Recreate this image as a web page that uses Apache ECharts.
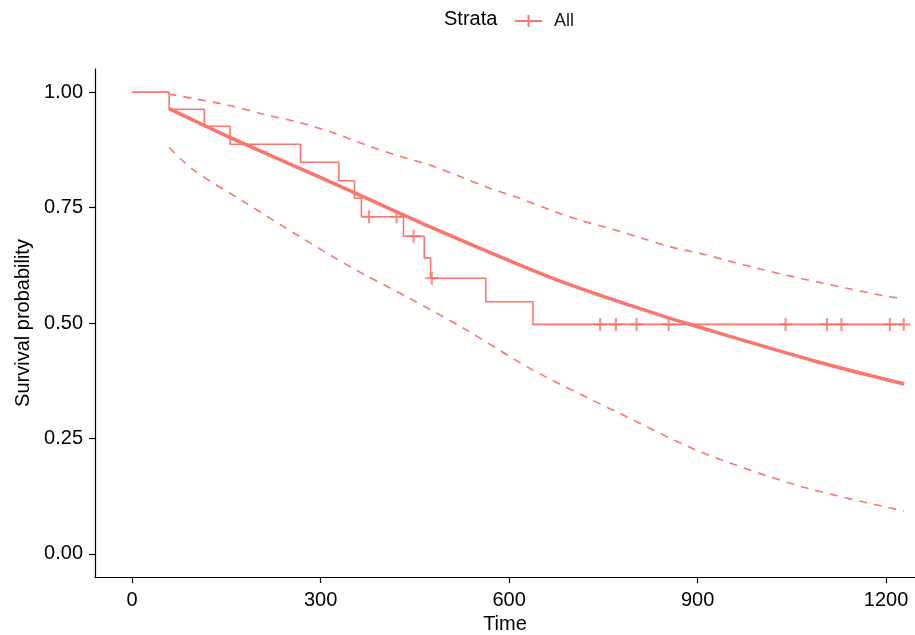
<!DOCTYPE html>
<html>
<head>
<meta charset="utf-8">
<style>
  html, body { margin: 0; padding: 0; background: #fff; }
  #chart { width: 915px; height: 635px; }
</style>
<script src="https://cdn.jsdelivr.net/npm/echarts@6/dist/echarts.min.js"></script>
</head>
<body>
<div id="chart"></div>
<script>
// Kaplan-Meier estimate (step curve)
const stepTime = [0, 59, 115, 156, 268, 329, 354, 365, 432, 465, 475, 563, 638, 1228];
const stepSurv = [1.000, 0.963, 0.926, 0.887, 0.848, 0.808, 0.770, 0.730, 0.688, 0.641, 0.597, 0.546, 0.497, 0.497];

// Censored observations
const censorTime = [377, 421, 448, 477, 745, 770, 803, 854, 1040, 1106, 1129, 1206, 1228];
const censorSurv = [0.730, 0.730, 0.688, 0.597, 0.497, 0.497, 0.497, 0.497, 0.497, 0.497, 0.497, 0.497, 0.497];

// Fitted parametric survival curve
const fitTime = [59, 160, 320, 458, 675, 840, 890, 1083, 1229];
const fitSurv = [0.964, 0.899, 0.803, 0.718, 0.594, 0.517, 0.496, 0.419, 0.368];

// Confidence band of the fitted curve
const upperTime = [58, 98, 159, 209, 267, 320, 373, 426, 474, 522, 569, 617, 665, 712, 765, 808, 856, 903, 951, 999, 1046, 1094, 1142, 1200, 1227];
const upperSurv = [0.996, 0.986, 0.970, 0.952, 0.934, 0.912, 0.885, 0.861, 0.842, 0.817, 0.792, 0.770, 0.745, 0.723, 0.703, 0.685, 0.665, 0.651, 0.634, 0.617, 0.602, 0.588, 0.574, 0.558, 0.553];
const lowerTime = [59, 98, 182, 267, 352, 437, 532, 638, 787, 903, 1062, 1228];
const lowerSurv = [0.880, 0.831, 0.759, 0.687, 0.618, 0.557, 0.485, 0.398, 0.297, 0.222, 0.147, 0.093];

// Axis ticks
const xTicks = [0, 300, 600, 900, 1200];
const yTicks = [0, 0.25, 0.5, 0.75, 1];

const COLOR = '#F8766D';
const FONT = '"Liberation Sans", Arial, sans-serif';
const PLUS = 'path://M5,0h2v5h5v2h-5v5h-2v-5h-5v-2h5z';
const LEGEND_ICON = 'path://M0,5H12.5V0H14.5V5H27V7H14.5V12H12.5V7H0Z';

const pairs = (xs, ys) => xs.map((x, i) => [x, ys[i]]);

const chart = echarts.init(document.getElementById('chart'), null, { renderer: 'canvas' });

chart.setOption({
  animation: false,
  backgroundColor: '#ffffff',
  grid: { left: 95, top: 69, width: 820, height: 508, containLabel: false, outerBoundsMode: 'none' },
  graphic: [{
    type: 'text',
    left: 444,
    top: 9,
    style: { text: 'Strata', font: '20px ' + FONT, fill: '#000' }
  }],
  legend: {
    data: [{ name: 'All', icon: LEGEND_ICON }],
    left: 515,
    top: 12,
    padding: 0,
    itemWidth: 27,
    itemHeight: 12,
    itemStyle: { color: COLOR },
    textStyle: { fontFamily: FONT, fontSize: 18, color: '#1a1a1a', padding: [0, 0, 0, 7] },
    selectedMode: false
  },
  xAxis: {
    type: 'value',
    min: -59,
    max: 1246,
    name: 'Time',
    nameLocation: 'middle',
    nameGap: 37,
    nameTextStyle: { fontFamily: FONT, fontSize: 20, color: '#000' },
    axisLine: { show: true, onZero: false, lineStyle: { color: '#000', width: 1.2 } },
    axisTick: { show: true, length: 6, customValues: xTicks, lineStyle: { color: '#000', width: 1.2 } },
    axisLabel: {
      customValues: xTicks, margin: 13, fontFamily: FONT, fontSize: 20, color: '#000',
      formatter: v => String(v)
    },
    splitLine: { show: false }
  },
  yAxis: {
    type: 'value',
    min: -0.05,
    max: 1.05,
    name: 'Survival probability',
    nameLocation: 'middle',
    nameGap: 62,
    nameTextStyle: { fontFamily: FONT, fontSize: 20, color: '#000' },
    axisLine: { show: true, onZero: false, lineStyle: { color: '#000', width: 1.2 } },
    axisTick: { show: true, length: 6, customValues: yTicks, lineStyle: { color: '#000', width: 1.2 } },
    axisLabel: {
      customValues: yTicks, margin: 12, fontFamily: FONT, fontSize: 20, color: '#000',
      formatter: v => v.toFixed(2)
    },
    splitLine: { show: false }
  },
  series: [
    {
      name: 'All',
      type: 'line',
      step: 'end',
      data: pairs(stepTime, stepSurv),
      showSymbol: false,
      lineStyle: { color: COLOR, width: 1.6 },
      itemStyle: { color: COLOR },
      z: 3
    },
    {
      name: 'All',
      type: 'scatter',
      data: pairs(censorTime, censorSurv),
      symbol: PLUS,
      symbolSize: 13,
      itemStyle: { color: COLOR },
      z: 4
    },
    {
      name: 'fit',
      type: 'line',
      smooth: 0.3,
      data: pairs(fitTime, fitSurv),
      showSymbol: false,
      lineStyle: { color: COLOR, width: 3.6 },
      z: 2
    },
    {
      name: 'upper',
      type: 'line',
      smooth: 0.3,
      data: pairs(upperTime, upperSurv),
      showSymbol: false,
      lineStyle: { color: COLOR, width: 1.6, type: [8, 7] },
      z: 2
    },
    {
      name: 'lower',
      type: 'line',
      smooth: 0.3,
      data: pairs(lowerTime, lowerSurv),
      showSymbol: false,
      lineStyle: { color: COLOR, width: 1.6, type: [8, 7] },
      z: 2
    }
  ]
});
</script>
</body>
</html>
